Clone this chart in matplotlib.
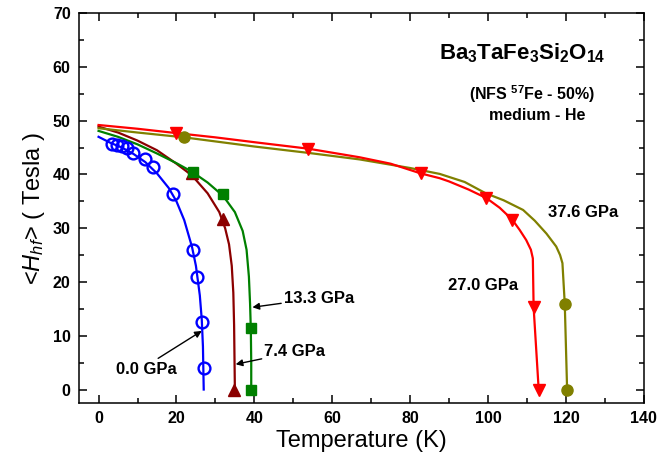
import matplotlib
matplotlib.use("Agg")
import matplotlib.pyplot as plt
from matplotlib.ticker import MultipleLocator

plt.rcParams['font.family'] = ['Liberation Sans', 'DejaVu Sans']
plt.rcParams['mathtext.fontset'] = 'custom'
plt.rcParams['mathtext.rm'] = 'Liberation Sans'
plt.rcParams['mathtext.it'] = 'Liberation Sans:italic'
plt.rcParams['mathtext.bf'] = 'Liberation Sans:bold'

# ---- measured data points ----
T_00 = [3.4, 4.7, 6.0, 7.3, 8.8, 11.8, 14.1, 19.1, 24.2, 25.2, 26.5, 27.0]
H_00 = [45.7, 45.4, 45.3, 44.9, 43.9, 42.8, 41.3, 36.4, 25.9, 21.0, 12.6, 4.0]

T_74 = [23.9, 31.9, 34.8]
H_74 = [40.2, 31.8, 0.0]

T_133 = [24.2, 31.9, 39.1, 39.1]
H_133 = [40.5, 36.3, 11.5, 0.0]

T_270 = [19.9, 53.8, 82.7, 99.6, 106.2, 111.7, 113.0]
H_270 = [47.7, 44.7, 40.2, 35.6, 31.5, 15.3, 0.0]

T_376 = [22.0, 119.7, 120.3]
H_376 = [46.9, 15.9, 0.0]

# ---- fit curves ----
fT_00 = [0, 3, 6, 9, 12, 15, 18, 20, 22, 24, 25, 26, 26.5, 26.8, 26.9, 27.0]
fH_00 = [47.0, 45.9, 45.0, 43.8, 42.3, 40.2, 37.5, 35.0, 31.5, 26.5, 23.0, 17.5, 13.0, 8.0, 4.0, 0.0]

fT_74 = [0, 5, 10, 15, 20, 24, 28, 31, 32.5, 33.5, 34.2, 34.6, 34.8, 34.9, 35.0]
fH_74 = [48.9, 47.8, 46.3, 44.5, 42.0, 39.8, 36.5, 33.0, 30.0, 27.0, 23.0, 18.0, 12.0, 6.0, 0.0]

fT_133 = [0, 5, 10, 15, 20, 24, 28, 32, 35, 37, 38.0, 38.6, 38.9, 39.1, 39.2, 39.2]
fH_133 = [48.1, 47.0, 45.6, 43.9, 42.1, 40.5, 38.5, 36.0, 33.0, 29.5, 26.0, 21.0, 16.0, 11.0, 5.0, 0.0]

fT_270 = [0, 10, 19.9, 30, 40, 53.8, 67, 75, 82.7, 87.6, 90, 95, 99.6, 103, 106.2, 108.1, 109.8, 111.0, 111.5, 111.7, 113.0]
fH_270 = [49.2, 48.5, 47.7, 46.9, 46.0, 44.8, 43.2, 42.0, 40.2, 39.3, 38.7, 37.2, 35.6, 33.8, 31.6, 29.7, 27.8, 26.0, 24.4, 15.3, 0.0]

fT_376 = [0, 10, 22, 40, 54, 67, 80, 87.6, 94, 99.4, 104, 109, 112, 115, 117.5, 118.5, 119.1, 119.7, 120.3]
fH_376 = [48.6, 47.8, 46.9, 45.2, 44.0, 42.8, 41.2, 40.1, 38.6, 36.5, 35.2, 33.4, 31.4, 29.0, 26.6, 25.0, 23.5, 15.9, 0.0]

c_blue = '#0000ff'
c_brown = '#8b0000'
c_green = '#008000'
c_red = '#ff0000'
c_olive = '#808000'

fig = plt.figure(figsize=(6.59, 4.70), dpi=100)
ax = fig.add_axes([0.12, 0.1426, 0.857, 0.8294])

lw = 1.6
ax.plot(fT_00, fH_00, color=c_blue, lw=lw)
ax.plot(fT_74, fH_74, color=c_brown, lw=lw)
ax.plot(fT_133, fH_133, color=c_green, lw=lw)
ax.plot(fT_376, fH_376, color=c_olive, lw=lw)
ax.plot(fT_270, fH_270, color=c_red, lw=lw)

ax.plot(T_00, H_00, 'o', ms=8.5, mfc='none', mec=c_blue, mew=1.7)
ax.plot(T_74, H_74, '^', ms=8, color=c_brown)
ax.plot(T_133, H_133, 's', ms=6.5, color=c_green)
ax.plot(T_376, H_376, 'o', ms=8, color=c_olive)
ax.plot(T_270, H_270, 'v', ms=8, color=c_red)

ax.set_xlim(-5, 140)
ax.set_ylim(-2.5, 70)
ax.xaxis.set_major_locator(MultipleLocator(20))
ax.xaxis.set_minor_locator(MultipleLocator(10))
ax.yaxis.set_major_locator(MultipleLocator(10))
ax.yaxis.set_minor_locator(MultipleLocator(5))
ax.tick_params(which='both', direction='in', top=True, right=True, width=1.1)
ax.tick_params(which='major', length=6, labelsize=11.5, pad=6)
ax.tick_params(which='minor', length=3.5)
for lab in ax.get_xticklabels() + ax.get_yticklabels():
    lab.set_fontweight('bold')
for s in ax.spines.values():
    s.set_linewidth(1.1)

ax.set_xlabel('Temperature (K)', fontsize=17, labelpad=3)
ax.set_ylabel(r'<$\it{H}_{\it{hf}}$> ( Tesla )', fontsize=17, labelpad=4)

ax.text(108.7, 61.4, r'$\mathbf{Ba_3TaFe_3Si_2O_{14}}$', fontsize=16, ha='center', va='baseline')
ax.text(111.2, 53.9, r'(NFS $^{\mathbf{57}}$Fe - 50%)', fontsize=11.5, fontweight='bold', ha='center', va='baseline')
ax.text(112.7, 50.2, 'medium - He', fontsize=11.5, fontweight='bold', ha='center', va='baseline')

ax.text(115.4, 33.0, '37.6 GPa', fontsize=12, fontweight='bold', ha='left', va='center')
ax.text(89.6, 19.4, '27.0 GPa', fontsize=12, fontweight='bold', ha='left', va='center')

arrowprops = dict(arrowstyle='-|>', color='black', lw=1.0, mutation_scale=10, shrinkA=0, shrinkB=0)
ax.annotate('13.3 GPa', xy=(39.5, 15.3), xytext=(47.6, 17.0), fontsize=12, fontweight='bold',
            ha='left', va='center', arrowprops=arrowprops)
ax.annotate('7.4 GPa', xy=(35.2, 4.7), xytext=(42.6, 7.0), fontsize=12, fontweight='bold',
            ha='left', va='center', arrowprops=arrowprops)
ax.annotate('', xy=(26.5, 10.9), xytext=(15.3, 5.8), arrowprops=arrowprops)
ax.text(4.5, 3.8, '0.0 GPa', fontsize=12, fontweight='bold', ha='left', va='center')

fig.savefig('out.png', dpi=100)
